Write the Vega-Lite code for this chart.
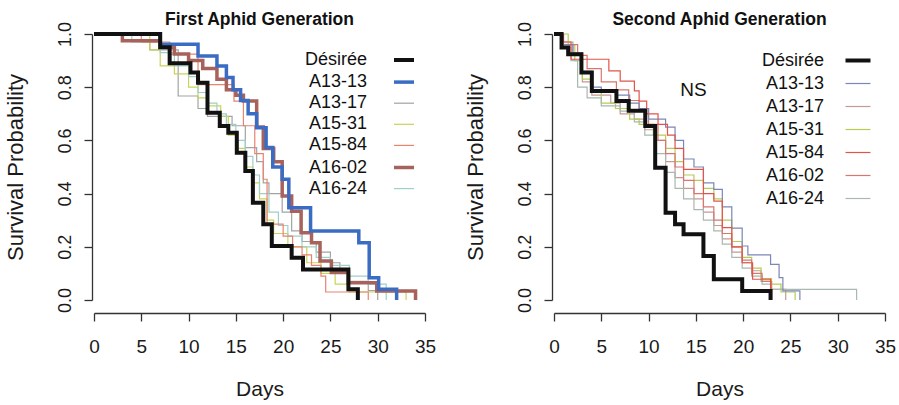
{
"$schema":"https://vega.github.io/schema/vega-lite/v6.json",
"background":"white",
"padding":{"left":4,"top":10,"right":5,"bottom":5},
"bounds":"flush",
"spacing":129,
"config":{
 "font":"Liberation Sans",
 "view":{"stroke":null},
 "axis":{"grid":false,"domainColor":"#333","tickColor":"#333","domainWidth":1.3,"tickWidth":1.3,"tickSize":8,"labelColor":"#1a1a1a","titleColor":"#1a1a1a","labelFont":"Liberation Sans","titleFont":"Liberation Sans","titleFontWeight":"normal","labelOverlap":false,"labelFlush":false},
 "title":{"font":"Liberation Sans","fontSize":17.5,"fontWeight":"bold","anchor":"middle","frame":"group","baseline":"alphabetic","offset":-7,"color":"#111"}
},
"datasets":{"km":[
{"gen":"First","line":"A13-17","day":0,"surv":1},{"gen":"First","line":"A13-17","day":3,"surv":0.975},{"gen":"First","line":"A13-17","day":5.9,"surv":0.94},{"gen":"First","line":"A13-17","day":8.9,"surv":0.767},{"gen":"First","line":"A13-17","day":11,"surv":0.72},{"gen":"First","line":"A13-17","day":12,"surv":0.69},{"gen":"First","line":"A13-17","day":14.6,"surv":0.655},{"gen":"First","line":"A13-17","day":16,"surv":0.573},{"gen":"First","line":"A13-17","day":17.2,"surv":0.52},{"gen":"First","line":"A13-17","day":17.9,"surv":0.44},{"gen":"First","line":"A13-17","day":18.5,"surv":0.4},{"gen":"First","line":"A13-17","day":19.9,"surv":0.33},{"gen":"First","line":"A13-17","day":20.9,"surv":0.26},{"gen":"First","line":"A13-17","day":22,"surv":0.22},{"gen":"First","line":"A13-17","day":23.5,"surv":0.18},{"gen":"First","line":"A13-17","day":25,"surv":0.14},{"gen":"First","line":"A13-17","day":26,"surv":0.1},{"gen":"First","line":"A13-17","day":27,"surv":0.07},{"gen":"First","line":"A13-17","day":29,"surv":0.035},{"gen":"First","line":"A13-17","day":30,"surv":0},
{"gen":"First","line":"A15-31","day":0,"surv":1},{"gen":"First","line":"A15-31","day":5.9,"surv":0.94},{"gen":"First","line":"A15-31","day":7,"surv":0.88},{"gen":"First","line":"A15-31","day":8.5,"surv":0.85},{"gen":"First","line":"A15-31","day":10,"surv":0.8},{"gen":"First","line":"A15-31","day":11,"surv":0.76},{"gen":"First","line":"A15-31","day":12,"surv":0.73},{"gen":"First","line":"A15-31","day":13.4,"surv":0.69},{"gen":"First","line":"A15-31","day":14.2,"surv":0.62},{"gen":"First","line":"A15-31","day":15.1,"surv":0.57},{"gen":"First","line":"A15-31","day":16,"surv":0.5},{"gen":"First","line":"A15-31","day":16.8,"surv":0.44},{"gen":"First","line":"A15-31","day":17.5,"surv":0.38},{"gen":"First","line":"A15-31","day":18.3,"surv":0.3},{"gen":"First","line":"A15-31","day":19,"surv":0.25},{"gen":"First","line":"A15-31","day":20.5,"surv":0.2},{"gen":"First","line":"A15-31","day":22.5,"surv":0.14},{"gen":"First","line":"A15-31","day":24,"surv":0.1},{"gen":"First","line":"A15-31","day":25.5,"surv":0.06},{"gen":"First","line":"A15-31","day":27,"surv":0.03},{"gen":"First","line":"A15-31","day":33,"surv":0},
{"gen":"First","line":"A16-24","day":0,"surv":1},{"gen":"First","line":"A16-24","day":4,"surv":0.97},{"gen":"First","line":"A16-24","day":7,"surv":0.93},{"gen":"First","line":"A16-24","day":8.5,"surv":0.88},{"gen":"First","line":"A16-24","day":10,"surv":0.84},{"gen":"First","line":"A16-24","day":11,"surv":0.78},{"gen":"First","line":"A16-24","day":12,"surv":0.74},{"gen":"First","line":"A16-24","day":13,"surv":0.7},{"gen":"First","line":"A16-24","day":14,"surv":0.66},{"gen":"First","line":"A16-24","day":15,"surv":0.6},{"gen":"First","line":"A16-24","day":16,"surv":0.54},{"gen":"First","line":"A16-24","day":16.8,"surv":0.47},{"gen":"First","line":"A16-24","day":17.5,"surv":0.4},{"gen":"First","line":"A16-24","day":18.5,"surv":0.33},{"gen":"First","line":"A16-24","day":19.5,"surv":0.28},{"gen":"First","line":"A16-24","day":20.5,"surv":0.24},{"gen":"First","line":"A16-24","day":22,"surv":0.2},{"gen":"First","line":"A16-24","day":23.5,"surv":0.16},{"gen":"First","line":"A16-24","day":25,"surv":0.13},{"gen":"First","line":"A16-24","day":27,"surv":0.09},{"gen":"First","line":"A16-24","day":29,"surv":0.06},{"gen":"First","line":"A16-24","day":30.9,"surv":0},
{"gen":"First","line":"A15-84","day":0,"surv":1},{"gen":"First","line":"A15-84","day":5,"surv":0.97},{"gen":"First","line":"A15-84","day":8,"surv":0.924},{"gen":"First","line":"A15-84","day":11,"surv":0.81},{"gen":"First","line":"A15-84","day":14.8,"surv":0.748},{"gen":"First","line":"A15-84","day":15.8,"surv":0.655},{"gen":"First","line":"A15-84","day":17,"surv":0.55},{"gen":"First","line":"A15-84","day":17.9,"surv":0.454},{"gen":"First","line":"A15-84","day":18.3,"surv":0.285},{"gen":"First","line":"A15-84","day":20,"surv":0.24},{"gen":"First","line":"A15-84","day":21,"surv":0.2},{"gen":"First","line":"A15-84","day":22,"surv":0.17},{"gen":"First","line":"A15-84","day":23,"surv":0.13},{"gen":"First","line":"A15-84","day":24,"surv":0.09},{"gen":"First","line":"A15-84","day":24.5,"surv":0.03},{"gen":"First","line":"A15-84","day":29,"surv":0},
{"gen":"First","line":"A16-02","day":0,"surv":1},{"gen":"First","line":"A16-02","day":3,"surv":0.975},{"gen":"First","line":"A16-02","day":7,"surv":0.95},{"gen":"First","line":"A16-02","day":8.5,"surv":0.925},{"gen":"First","line":"A16-02","day":10,"surv":0.9},{"gen":"First","line":"A16-02","day":11.5,"surv":0.87},{"gen":"First","line":"A16-02","day":13,"surv":0.83},{"gen":"First","line":"A16-02","day":14,"surv":0.79},{"gen":"First","line":"A16-02","day":15,"surv":0.77},{"gen":"First","line":"A16-02","day":15.8,"surv":0.748},{"gen":"First","line":"A16-02","day":17.2,"surv":0.65},{"gen":"First","line":"A16-02","day":17.9,"surv":0.57},{"gen":"First","line":"A16-02","day":19,"surv":0.52},{"gen":"First","line":"A16-02","day":19.9,"surv":0.391},{"gen":"First","line":"A16-02","day":20.9,"surv":0.334},{"gen":"First","line":"A16-02","day":21.9,"surv":0.253},{"gen":"First","line":"A16-02","day":23,"surv":0.215},{"gen":"First","line":"A16-02","day":23.9,"surv":0.147},{"gen":"First","line":"A16-02","day":25.1,"surv":0.103},{"gen":"First","line":"A16-02","day":26.9,"surv":0.065},{"gen":"First","line":"A16-02","day":29.9,"surv":0.034},{"gen":"First","line":"A16-02","day":34,"surv":0},
{"gen":"First","line":"A13-13","day":0,"surv":1},{"gen":"First","line":"A13-13","day":7,"surv":0.961},{"gen":"First","line":"A13-13","day":11,"surv":0.917},{"gen":"First","line":"A13-13","day":13,"surv":0.88},{"gen":"First","line":"A13-13","day":14,"surv":0.836},{"gen":"First","line":"A13-13","day":14.7,"surv":0.79},{"gen":"First","line":"A13-13","day":15.5,"surv":0.75},{"gen":"First","line":"A13-13","day":16.3,"surv":0.7},{"gen":"First","line":"A13-13","day":17.2,"surv":0.648},{"gen":"First","line":"A13-13","day":18.2,"surv":0.573},{"gen":"First","line":"A13-13","day":18.9,"surv":0.5},{"gen":"First","line":"A13-13","day":19.9,"surv":0.454},{"gen":"First","line":"A13-13","day":20.6,"surv":0.347},{"gen":"First","line":"A13-13","day":22.9,"surv":0.259},{"gen":"First","line":"A13-13","day":28,"surv":0.215},{"gen":"First","line":"A13-13","day":29.1,"surv":0.084},{"gen":"First","line":"A13-13","day":30.1,"surv":0.04},{"gen":"First","line":"A13-13","day":32,"surv":0},
{"gen":"First","line":"Désirée","day":0,"surv":1},{"gen":"First","line":"Désirée","day":7,"surv":0.95},{"gen":"First","line":"Désirée","day":8,"surv":0.89},{"gen":"First","line":"Désirée","day":10.2,"surv":0.855},{"gen":"First","line":"Désirée","day":11,"surv":0.817},{"gen":"First","line":"Désirée","day":12,"surv":0.704},{"gen":"First","line":"Désirée","day":13.3,"surv":0.654},{"gen":"First","line":"Désirée","day":14.2,"surv":0.629},{"gen":"First","line":"Désirée","day":15.1,"surv":0.554},{"gen":"First","line":"Désirée","day":16,"surv":0.485},{"gen":"First","line":"Désirée","day":16.8,"surv":0.366},{"gen":"First","line":"Désirée","day":17.9,"surv":0.285},{"gen":"First","line":"Désirée","day":18.8,"surv":0.203},{"gen":"First","line":"Désirée","day":20.9,"surv":0.159},{"gen":"First","line":"Désirée","day":22.1,"surv":0.115},{"gen":"First","line":"Désirée","day":26.9,"surv":0.04},{"gen":"First","line":"Désirée","day":27.9,"surv":0},
{"gen":"Second","line":"A13-17","day":0,"surv":1},{"gen":"Second","line":"A13-17","day":1,"surv":0.97},{"gen":"Second","line":"A13-17","day":2,"surv":0.93},{"gen":"Second","line":"A13-17","day":3,"surv":0.82},{"gen":"Second","line":"A13-17","day":4,"surv":0.77},{"gen":"Second","line":"A13-17","day":6,"surv":0.74},{"gen":"Second","line":"A13-17","day":7,"surv":0.7},{"gen":"Second","line":"A13-17","day":8.5,"surv":0.68},{"gen":"Second","line":"A13-17","day":9.6,"surv":0.64},{"gen":"Second","line":"A13-17","day":10.7,"surv":0.6},{"gen":"Second","line":"A13-17","day":11.8,"surv":0.52},{"gen":"Second","line":"A13-17","day":12.8,"surv":0.46},{"gen":"Second","line":"A13-17","day":13.7,"surv":0.42},{"gen":"Second","line":"A13-17","day":14.8,"surv":0.38},{"gen":"Second","line":"A13-17","day":15.8,"surv":0.33},{"gen":"Second","line":"A13-17","day":16.9,"surv":0.28},{"gen":"Second","line":"A13-17","day":17.8,"surv":0.23},{"gen":"Second","line":"A13-17","day":18.8,"surv":0.18},{"gen":"Second","line":"A13-17","day":19.9,"surv":0.14},{"gen":"Second","line":"A13-17","day":20.9,"surv":0.11},{"gen":"Second","line":"A13-17","day":21.9,"surv":0.07},{"gen":"Second","line":"A13-17","day":23,"surv":0.04},{"gen":"Second","line":"A13-17","day":24.5,"surv":0},
{"gen":"Second","line":"A15-31","day":0,"surv":1},{"gen":"Second","line":"A15-31","day":1.5,"surv":0.96},{"gen":"Second","line":"A15-31","day":2.2,"surv":0.9},{"gen":"Second","line":"A15-31","day":3,"surv":0.83},{"gen":"Second","line":"A15-31","day":4,"surv":0.78},{"gen":"Second","line":"A15-31","day":5,"surv":0.74},{"gen":"Second","line":"A15-31","day":6.5,"surv":0.72},{"gen":"Second","line":"A15-31","day":8,"surv":0.68},{"gen":"Second","line":"A15-31","day":9,"surv":0.66},{"gen":"Second","line":"A15-31","day":10.5,"surv":0.62},{"gen":"Second","line":"A15-31","day":11.8,"surv":0.57},{"gen":"Second","line":"A15-31","day":12.8,"surv":0.52},{"gen":"Second","line":"A15-31","day":13.7,"surv":0.47},{"gen":"Second","line":"A15-31","day":14.8,"surv":0.45},{"gen":"Second","line":"A15-31","day":15.8,"surv":0.42},{"gen":"Second","line":"A15-31","day":16.9,"surv":0.38},{"gen":"Second","line":"A15-31","day":17.8,"surv":0.3},{"gen":"Second","line":"A15-31","day":18.8,"surv":0.22},{"gen":"Second","line":"A15-31","day":19.9,"surv":0.16},{"gen":"Second","line":"A15-31","day":20.9,"surv":0.12},{"gen":"Second","line":"A15-31","day":21.9,"surv":0.08},{"gen":"Second","line":"A15-31","day":23,"surv":0.06},{"gen":"Second","line":"A15-31","day":24,"surv":0.03},{"gen":"Second","line":"A15-31","day":25.5,"surv":0},
{"gen":"Second","line":"A16-24","day":0,"surv":1},{"gen":"Second","line":"A16-24","day":1,"surv":0.95},{"gen":"Second","line":"A16-24","day":1.8,"surv":0.9},{"gen":"Second","line":"A16-24","day":2.5,"surv":0.8},{"gen":"Second","line":"A16-24","day":3.5,"surv":0.76},{"gen":"Second","line":"A16-24","day":5,"surv":0.73},{"gen":"Second","line":"A16-24","day":7,"surv":0.71},{"gen":"Second","line":"A16-24","day":8.5,"surv":0.67},{"gen":"Second","line":"A16-24","day":9.6,"surv":0.62},{"gen":"Second","line":"A16-24","day":10.7,"surv":0.55},{"gen":"Second","line":"A16-24","day":11.8,"surv":0.48},{"gen":"Second","line":"A16-24","day":12.8,"surv":0.42},{"gen":"Second","line":"A16-24","day":13.7,"surv":0.38},{"gen":"Second","line":"A16-24","day":14.8,"surv":0.34},{"gen":"Second","line":"A16-24","day":15.8,"surv":0.3},{"gen":"Second","line":"A16-24","day":16.9,"surv":0.26},{"gen":"Second","line":"A16-24","day":17.8,"surv":0.21},{"gen":"Second","line":"A16-24","day":18.8,"surv":0.16},{"gen":"Second","line":"A16-24","day":19.9,"surv":0.12},{"gen":"Second","line":"A16-24","day":20.9,"surv":0.09},{"gen":"Second","line":"A16-24","day":22,"surv":0.06},{"gen":"Second","line":"A16-24","day":23,"surv":0.04},{"gen":"Second","line":"A16-24","day":32,"surv":0},
{"gen":"Second","line":"A16-02","day":0,"surv":1},{"gen":"Second","line":"A16-02","day":1,"surv":0.96},{"gen":"Second","line":"A16-02","day":2.5,"surv":0.92},{"gen":"Second","line":"A16-02","day":3.5,"surv":0.87},{"gen":"Second","line":"A16-02","day":5,"surv":0.82},{"gen":"Second","line":"A16-02","day":6.6,"surv":0.79},{"gen":"Second","line":"A16-02","day":7.9,"surv":0.75},{"gen":"Second","line":"A16-02","day":9,"surv":0.72},{"gen":"Second","line":"A16-02","day":10,"surv":0.66},{"gen":"Second","line":"A16-02","day":11,"surv":0.6},{"gen":"Second","line":"A16-02","day":11.8,"surv":0.55},{"gen":"Second","line":"A16-02","day":12.8,"surv":0.5},{"gen":"Second","line":"A16-02","day":13.7,"surv":0.45},{"gen":"Second","line":"A16-02","day":14.8,"surv":0.4},{"gen":"Second","line":"A16-02","day":15.8,"surv":0.35},{"gen":"Second","line":"A16-02","day":16.9,"surv":0.3},{"gen":"Second","line":"A16-02","day":17.8,"surv":0.25},{"gen":"Second","line":"A16-02","day":18.8,"surv":0.2},{"gen":"Second","line":"A16-02","day":19.9,"surv":0.15},{"gen":"Second","line":"A16-02","day":20.9,"surv":0.1},{"gen":"Second","line":"A16-02","day":22,"surv":0.07},{"gen":"Second","line":"A16-02","day":23,"surv":0},
{"gen":"Second","line":"A13-13","day":0,"surv":1},{"gen":"Second","line":"A13-13","day":0.8,"surv":0.96},{"gen":"Second","line":"A13-13","day":2,"surv":0.92},{"gen":"Second","line":"A13-13","day":2.9,"surv":0.86},{"gen":"Second","line":"A13-13","day":4,"surv":0.8},{"gen":"Second","line":"A13-13","day":5,"surv":0.78},{"gen":"Second","line":"A13-13","day":6.6,"surv":0.77},{"gen":"Second","line":"A13-13","day":8,"surv":0.74},{"gen":"Second","line":"A13-13","day":9,"surv":0.72},{"gen":"Second","line":"A13-13","day":10,"surv":0.68},{"gen":"Second","line":"A13-13","day":11.8,"surv":0.65},{"gen":"Second","line":"A13-13","day":12.8,"surv":0.6},{"gen":"Second","line":"A13-13","day":13.7,"surv":0.53},{"gen":"Second","line":"A13-13","day":14.8,"surv":0.5},{"gen":"Second","line":"A13-13","day":15.8,"surv":0.44},{"gen":"Second","line":"A13-13","day":16.9,"surv":0.416},{"gen":"Second","line":"A13-13","day":17.8,"surv":0.35},{"gen":"Second","line":"A13-13","day":18.8,"surv":0.27},{"gen":"Second","line":"A13-13","day":19.9,"surv":0.203},{"gen":"Second","line":"A13-13","day":20.5,"surv":0.17},{"gen":"Second","line":"A13-13","day":22.9,"surv":0.134},{"gen":"Second","line":"A13-13","day":23.8,"surv":0.084},{"gen":"Second","line":"A13-13","day":24.2,"surv":0.034},{"gen":"Second","line":"A13-13","day":26,"surv":0},
{"gen":"Second","line":"A15-84","day":0,"surv":1},{"gen":"Second","line":"A15-84","day":1,"surv":0.97},{"gen":"Second","line":"A15-84","day":1.8,"surv":0.905},{"gen":"Second","line":"A15-84","day":5.8,"surv":0.861},{"gen":"Second","line":"A15-84","day":7,"surv":0.823},{"gen":"Second","line":"A15-84","day":8.5,"surv":0.786},{"gen":"Second","line":"A15-84","day":9,"surv":0.748},{"gen":"Second","line":"A15-84","day":9.8,"surv":0.7},{"gen":"Second","line":"A15-84","day":11,"surv":0.66},{"gen":"Second","line":"A15-84","day":12,"surv":0.62},{"gen":"Second","line":"A15-84","day":12.8,"surv":0.57},{"gen":"Second","line":"A15-84","day":13.7,"surv":0.491},{"gen":"Second","line":"A15-84","day":15.8,"surv":0.4},{"gen":"Second","line":"A15-84","day":16.9,"surv":0.372},{"gen":"Second","line":"A15-84","day":17.8,"surv":0.272},{"gen":"Second","line":"A15-84","day":18.8,"surv":0.2},{"gen":"Second","line":"A15-84","day":19.9,"surv":0.14},{"gen":"Second","line":"A15-84","day":21,"surv":0.078},{"gen":"Second","line":"A15-84","day":22.9,"surv":0},
{"gen":"Second","line":"Désirée","day":0,"surv":1},{"gen":"Second","line":"Désirée","day":0.8,"surv":0.949},{"gen":"Second","line":"Désirée","day":1.5,"surv":0.924},{"gen":"Second","line":"Désirée","day":2.9,"surv":0.855},{"gen":"Second","line":"Désirée","day":4,"surv":0.786},{"gen":"Second","line":"Désirée","day":6.6,"surv":0.748},{"gen":"Second","line":"Désirée","day":7.9,"surv":0.711},{"gen":"Second","line":"Désirée","day":9.65,"surv":0.654},{"gen":"Second","line":"Désirée","day":10.7,"surv":0.497},{"gen":"Second","line":"Désirée","day":11.8,"surv":0.328},{"gen":"Second","line":"Désirée","day":12.8,"surv":0.285},{"gen":"Second","line":"Désirée","day":13.7,"surv":0.247},{"gen":"Second","line":"Désirée","day":15.8,"surv":0.165},{"gen":"Second","line":"Désirée","day":16.9,"surv":0.078},{"gen":"Second","line":"Désirée","day":19.9,"surv":0.034},{"gen":"Second","line":"Désirée","day":22.9,"surv":0}
]},
"hconcat":[
 {
  "width":331,"height":266,
  "title":"First Aphid Generation",
  "data":{"name":"km"},
  "transform":[{"filter":"datum.gen === 'First'"}],
  "mark":{"type":"line","interpolate":"step-after","strokeCap":"butt","clip":false},
  "encoding":{
   "x":{"field":"day","type":"quantitative","scale":{"domain":[0,35],"nice":false,"zero":false},
        "axis":{"values":[0,5,10,15,20,25,30,35],"title":"Days","offset":13,"labelFontSize":19,"titleFontSize":21,"labelPadding":16,"titlePadding":22}},
   "y":{"field":"surv","type":"quantitative","scale":{"domain":[0,1],"nice":false},
        "axis":{"values":[0,0.2,0.4,0.6,0.8,1],"format":".1f","title":"Survival Probability","offset":2,"labelAngle":-90,"labelAlign":"center","labelBaseline":"bottom","labelFontSize":18,"labelPadding":10,"titleFontSize":22,"titlePadding":29}},
   "color":{"field":"line","type":"nominal",
        "scale":{"domain":["Désirée","A13-13","A13-17","A15-31","A15-84","A16-02","A16-24"],"range":["#111111","#3b6cc4","#a3a3a3","#c9d35a","#e8836f","#a8625c","#9fd0c8"]},
        "legend":{"title":null,"orient":"none","legendX":298,"legendY":14,"symbolType":"stroke","symbolSize":400,"symbolOffset":0,"labelOffset":-49,"labelAlign":"right","labelFontSize":18,"labelColor":"#111","rowPadding":1.1,"padding":0,"labelFont":"Liberation Sans"}},
   "strokeWidth":{"field":"line","type":"nominal",
        "scale":{"type":"ordinal","domain":["Désirée","A13-13","A13-17","A15-31","A15-84","A16-02","A16-24"],"range":[4,3.5,1.2,1.2,1.2,3.5,1.2]},
        "legend":{"title":null,"orient":"none","legendX":298,"legendY":14,"symbolType":"stroke","symbolSize":400,"symbolOffset":0,"labelOffset":-49,"labelAlign":"right","labelFontSize":18,"labelColor":"#111","rowPadding":1.1,"padding":0,"labelFont":"Liberation Sans"}}
  }
 },
 {
  "width":331,"height":266,
  "title":"Second Aphid Generation",
  "layer":[
   {
    "data":{"name":"km"},
    "transform":[{"filter":"datum.gen === 'Second'"}],
    "mark":{"type":"line","interpolate":"step-after","strokeCap":"butt","clip":false},
    "encoding":{
     "x":{"field":"day","type":"quantitative","scale":{"domain":[0,35],"nice":false,"zero":false},
          "axis":{"values":[0,5,10,15,20,25,30,35],"title":"Days","offset":13,"labelFontSize":19,"titleFontSize":21,"labelPadding":16,"titlePadding":22}},
     "y":{"field":"surv","type":"quantitative","scale":{"domain":[0,1],"nice":false},
          "axis":{"values":[0,0.2,0.4,0.6,0.8,1],"format":".1f","title":"Survival Probability","offset":2,"labelAngle":-90,"labelAlign":"center","labelBaseline":"bottom","labelFontSize":18,"labelPadding":10,"titleFontSize":22,"titlePadding":29}},
     "color":{"field":"line","type":"nominal",
          "scale":{"domain":["Désirée","A13-13","A13-17","A15-31","A15-84","A16-02","A16-24"],"range":["#111111","#7c86b8","#c49a96","#b5cc55","#e0554a","#d8776e","#a9b8b0"]},
          "legend":{"title":null,"orient":"none","legendX":289.5,"legendY":12,"symbolType":"stroke","symbolSize":625,"symbolOffset":0,"labelOffset":-48.5,"labelAlign":"right","labelFontSize":18,"labelColor":"#111","rowPadding":-4,"padding":0,"labelFont":"Liberation Sans"}},
     "strokeWidth":{"field":"line","type":"nominal",
          "scale":{"type":"ordinal","domain":["Désirée","A13-13","A13-17","A15-31","A15-84","A16-02","A16-24"],"range":[4,1.2,1.2,1.2,1.2,1.2,1.2]},
          "legend":{"title":null,"orient":"none","legendX":289.5,"legendY":12,"symbolType":"stroke","symbolSize":625,"symbolOffset":0,"labelOffset":-48.5,"labelAlign":"right","labelFontSize":18,"labelColor":"#111","rowPadding":-4,"padding":0,"labelFont":"Liberation Sans"}}
    }
   },
   {
    "data":{"values":[{"note":"NS"}]},
    "mark":{"type":"text","fontSize":19,"font":"Liberation Sans","baseline":"alphabetic","align":"center","color":"#111"},
    "encoding":{"x":{"datum":14.75,"type":"quantitative"},"y":{"datum":0.767,"type":"quantitative"},"text":{"field":"note"}}
   }
  ]
 }
],
"resolve":{"scale":{"color":"independent","strokeWidth":"independent"},"legend":{"color":"independent","strokeWidth":"independent"}}
}
